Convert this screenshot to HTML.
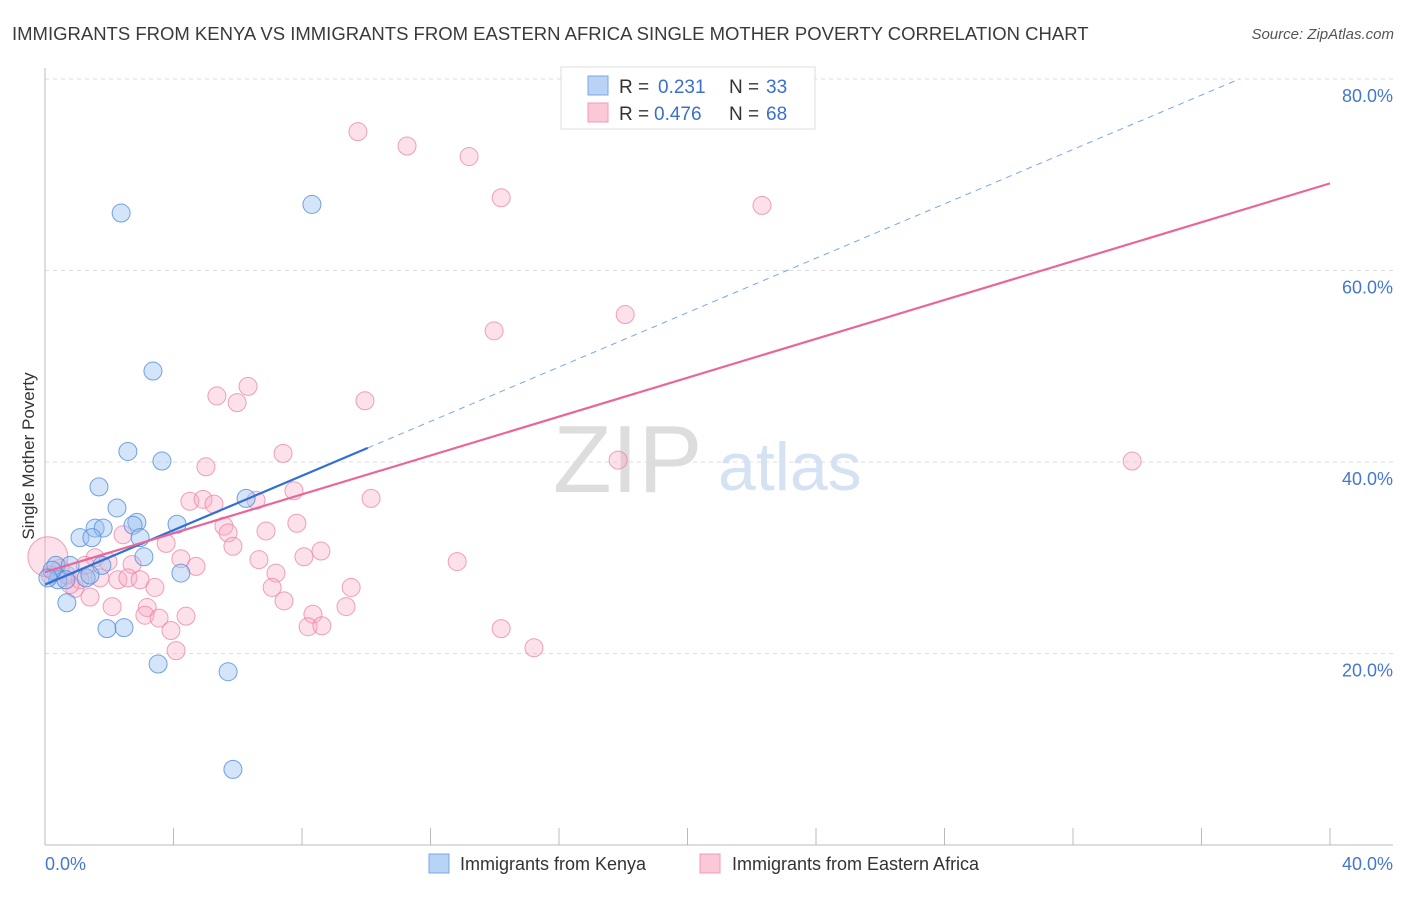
<!DOCTYPE html>
<html><head><meta charset="utf-8"><style>
body{margin:0;background:#fff;font-family:"Liberation Sans",sans-serif;}
svg text{font-family:"Liberation Sans",sans-serif;}
</style></head><body>
<svg id="chart" width="1406" height="892" xmlns="http://www.w3.org/2000/svg">
<text x="12" y="40" font-size="18.5" fill="#3a3a3a">IMMIGRANTS FROM KENYA VS IMMIGRANTS FROM EASTERN AFRICA SINGLE MOTHER POVERTY CORRELATION CHART</text>
<text x="1394" y="39" font-size="15" fill="#555" text-anchor="end" font-style="italic">Source: ZipAtlas.com</text>
<text transform="translate(34,456) rotate(-90)" font-size="17" fill="#333" text-anchor="middle">Single Mother Poverty</text>
<text x="553" y="492" font-size="96" fill="#ddd" font-family="Liberation Serif">ZIP</text>
<text x="718" y="490" font-size="68" fill="#d4e2f4">atlas</text>
<g id="grid"></g><g id="axes"></g><g id="pts"></g><g id="lines"></g>
<g>
<rect x="561" y="67" width="254" height="62" fill="#fff" stroke="#ddd"/>
<rect x="588" y="76" width="20" height="19" fill="#b8d3f5" stroke="#7aaae6"/>
<rect x="588" y="103" width="20" height="19" fill="#fbc8d7" stroke="#f09ab4"/>
<text x="619" y="93" font-size="19" fill="#333">R = </text><text x="658" y="93" font-size="19" fill="#3a6fd0">0.231</text>
<text x="729" y="93" font-size="19" fill="#333">N = </text><text x="766" y="93" font-size="19" fill="#3a6fd0">33</text>
<text x="619" y="120" font-size="19" fill="#333">R = </text><text x="654" y="120" font-size="19" fill="#3a6fd0">0.476</text>
<text x="729" y="120" font-size="19" fill="#333">N = </text><text x="766" y="120" font-size="19" fill="#3a6fd0">68</text>
</g>
<g>
<rect x="429" y="854" width="20" height="19" fill="#b8d3f5" stroke="#7aaae6"/>
<text x="460" y="870" font-size="18" fill="#333">Immigrants from Kenya</text>
<rect x="700" y="854" width="20" height="19" fill="#fbc8d7" stroke="#f09ab4"/>
<text x="732" y="870" font-size="18" fill="#333">Immigrants from Eastern Africa</text>
</g>
</svg>
<script>
const yTicks=[20,40,60,80];
const yTickLabels=["20.0%","40.0%","60.0%","80.0%"];
const xTicks=[0,4,8,12,16,20,24,28,32,36,40];
const kenyaX=[2.37,8.31,3.36,2.58,3.64,1.68,2.24,6.26,2.86,2.74,1.56,1.81,4.11,1.09,1.46,2.96,3.08,4.23,0.34,0.78,1.77,0.40,1.28,0.65,0.68,1.93,2.46,3.52,5.70,5.85,0.22,0.09,1.40];
const kenyaY=[66.0,66.9,49.5,41.1,40.1,37.4,35.2,36.2,33.7,33.4,33.1,33.1,33.5,32.1,32.1,32.1,30.1,28.4,29.2,29.2,29.2,27.7,27.9,27.7,25.3,22.6,22.7,18.9,18.1,7.9,28.7,27.9,28.2];
const eaX=[9.74,11.27,13.20,14.20,22.32,18.06,13.98,6.32,5.35,5.98,9.96,17.84,33.84,7.41,5.01,7.75,4.51,4.92,5.26,6.57,10.15,5.57,7.84,5.70,6.88,5.85,3.77,1.56,1.96,2.43,2.71,4.23,8.59,8.06,4.70,12.83,6.66,7.19,1.71,2.27,2.58,2.96,3.42,7.07,9.53,0.93,1.40,2.09,3.18,3.11,3.55,4.39,7.44,8.34,8.19,8.62,9.37,3.92,4.08,14.20,15.22,0.47,0.68,1.09,0.78,0.16,1.25,0.09];
const eaY=[74.5,73.0,71.9,67.6,66.8,55.4,53.7,47.9,46.9,46.2,46.4,40.2,40.1,40.9,39.5,37.0,35.9,36.1,35.6,36.0,36.2,33.3,33.6,32.6,32.8,31.2,31.5,30.0,29.6,32.4,29.3,29.9,30.7,30.1,29.1,29.6,29.8,28.4,27.9,27.7,27.9,27.7,26.9,26.9,26.9,26.8,25.9,24.9,24.8,24.0,23.7,23.9,25.5,24.1,22.8,22.9,24.9,22.4,20.3,22.6,20.6,28.9,28.2,27.7,27.2,28.2,29.2,30.1];
const kenyaTrend=[27.2,1.42];   // intercept, slope
const eaTrend=[28.5,1.015];
const X=v=>45+v/40*1285, Y=v=>845-v/20*191.5;
const NS="http://www.w3.org/2000/svg";
function mk(t,a,p){const e=document.createElementNS(NS,t);for(const k in a)e.setAttribute(k,a[k]);document.getElementById(p).appendChild(e);return e;}
yTicks.forEach((t,i)=>{
 const g=mk('line',{x1:45,x2:1393,y1:Y(t),y2:Y(t),stroke:'#ddd','stroke-dasharray':'4,4'},'grid');
 
 
 const l=mk('text',{x:1393,y:Y(t)+23,'font-size':18,fill:'#4477d0','text-anchor':'end'},'grid');
 l.textContent=yTickLabels[i];
 
 
});
mk('line',{x1:45,x2:45,y1:68,y2:845,stroke:'#bbb'},'axes');
mk('line',{x1:45,x2:1393,y1:845,y2:845,stroke:'#bbb'},'axes');
xTicks.forEach(t=>{
 const k=mk('line',{x1:X(t),x2:X(t),y1:828,y2:845,stroke:'#bbb'},'axes');
 
 
});
const x0=mk('text',{x:45,y:870,'font-size':18,fill:'#4477d0'},'axes');x0.textContent='0.0%';


const x1=mk('text',{x:1393,y:870,'font-size':18,fill:'#4477d0','text-anchor':'end'},'axes');x1.textContent='40.0%';


eaX.forEach((x,i)=>{
 const r=(i===eaX.length-1)?20:9;
 const c=mk('circle',{cx:X(x),cy:Y(eaY[i]),r:r,fill:'rgba(248,170,195,0.35)',stroke:'rgba(235,130,165,0.75)','stroke-width':1},'pts');
 
 
});
kenyaX.forEach((x,i)=>{
 const c=mk('circle',{cx:X(x),cy:Y(kenyaY[i]),r:9,fill:'rgba(150,190,240,0.4)',stroke:'rgba(80,140,220,0.8)','stroke-width':1},'pts');
 
 
});
const kl=mk('line',{x1:X(0),y1:Y(kenyaTrend[0]),x2:X(10.05),y2:Y(kenyaTrend[0]+kenyaTrend[1]*10.05),stroke:'#2f6fd6','stroke-width':2.2},'lines');


const xe=(80-kenyaTrend[0])/kenyaTrend[1];
const kd=mk('line',{x1:X(10.05),y1:Y(kenyaTrend[0]+kenyaTrend[1]*10.05),x2:X(xe),y2:Y(80),stroke:'#7aa6e6','stroke-width':1,'stroke-dasharray':'6,5'},'lines');


const el=mk('line',{x1:X(0),y1:Y(eaTrend[0]),x2:X(40),y2:Y(eaTrend[0]+eaTrend[1]*40),stroke:'#e8679a','stroke-width':2.2},'lines');


</script>
</body></html>
